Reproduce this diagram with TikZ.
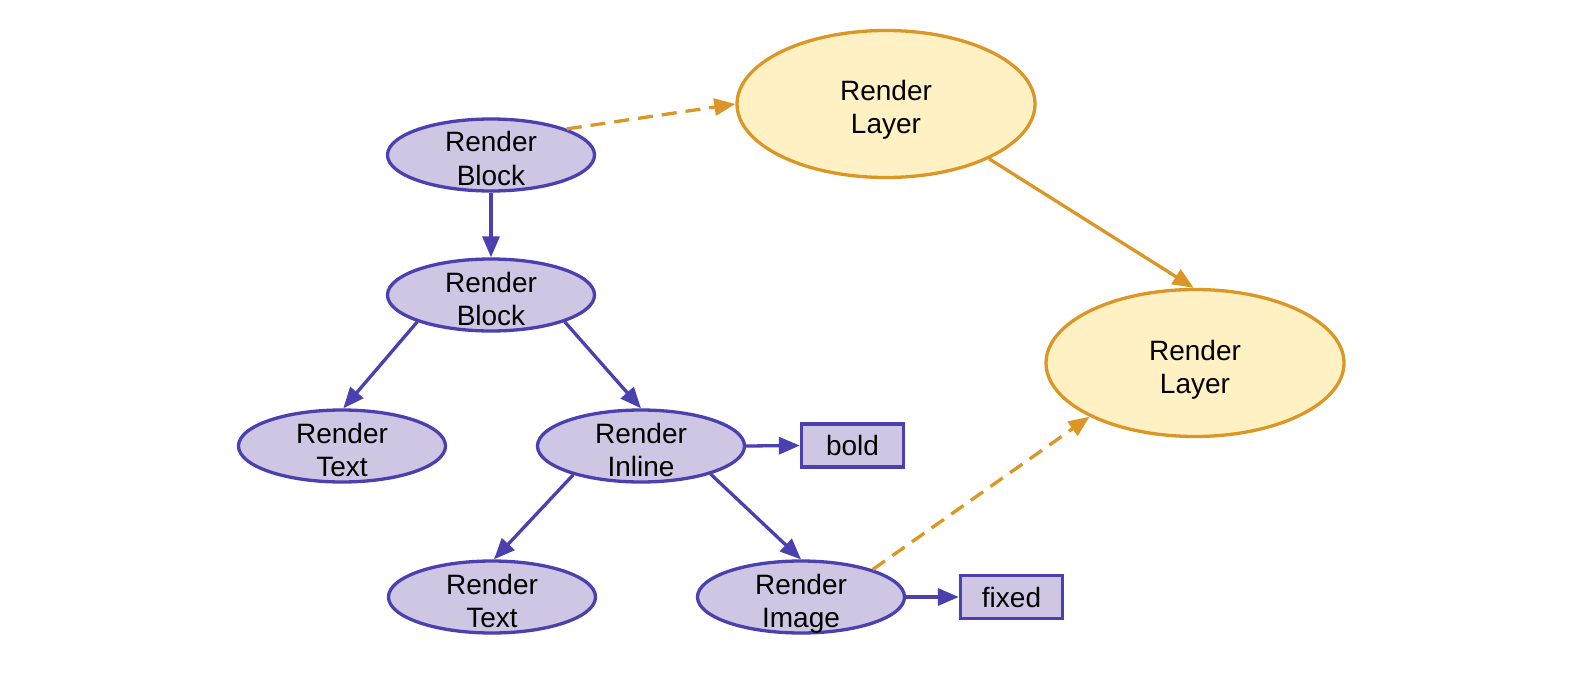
\documentclass[tikz,border=0pt]{standalone}
\usepackage{fontspec}
\setmainfont{Liberation Sans}
\usetikzlibrary{shapes.geometric,arrows.meta}
\definecolor{pfill}{RGB}{207,198,228}
\definecolor{pline}{RGB}{74,64,176}
\definecolor{ofill}{RGB}{255,241,196}
\definecolor{oline}{RGB}{219,150,37}
\newcommand{\tln}[2]{\raisebox{3pt}{\begin{tabular}[t]{@{}c@{}}#1\\#2\end{tabular}}}
\begin{document}
\begin{tikzpicture}[x=1pt,y=-1pt,
  lbl/.style={font=\fontsize{28}{33}\selectfont, text=black},
  flat/.style={text height=0pt, text depth=0pt, inner sep=0pt},
  pnode/.style={lbl, flat, ellipse, draw=pline, fill=pfill, line width=3.3pt, minimum width=207pt, minimum height=72pt},
  onode/.style={lbl, flat, ellipse, draw=oline, fill=ofill, line width=3.3pt, minimum width=298pt, minimum height=147pt},
  pbox/.style={lbl, rectangle, draw=pline, fill=pfill, line width=3.3pt, minimum width=102pt, minimum height=43pt, inner sep=0pt},
  parrow/.style={draw=pline, line width=3.3pt, -{Triangle[length=21pt,width=17pt]}},
  oarrow/.style={draw=oline, line width=3.3pt, -{Triangle[length=21pt,width=17pt]}},
  odash/.style={oarrow, dash pattern=on 15pt off 9pt},
]
\fill[white] (0,0) rectangle (1574,698);
\useasboundingbox (0,0) rectangle (1574,698);

\node[pnode] (b1) at (491,155) {\tln{Render}{Block}};
\node[pnode] (b2) at (491,295) {\tln{Render}{Block}};
\node[pnode] (t1) at (342,446) {\tln{Render}{Text}};
\node[pnode] (in) at (641,446) {\tln{Render}{Inline}};
\node[pnode] (t2) at (492,597) {\tln{Render}{Text}};
\node[pnode] (im) at (801,597) {\tln{Render}{Image}};
\node[pbox] (bold) at (852.5,445.5) {bold};
\node[pbox] (fixed) at (1011.5,597) {fixed};
\node[onode] (l1) at (886,104) {\tln{Render}{Layer}};
\node[onode] (l2) at (1195,363) {\tln{Render}{Layer}};

\draw[parrow] (b1.south) -- (b2.north);
\draw[parrow] (b2.200) -- (t1.88);
\draw[parrow] (b2.-20) -- (in.90);
\draw[parrow] (in.203) -- (t2.87);
\draw[parrow] (in.-22) -- (im.90);
\draw[parrow] (in.east) -- (bold.west);
\draw[parrow] (im.east) -- (fixed.west);
\draw[odash] (b1.19) -- (l1.west);
\draw[oarrow] (l1.-28) -- (l2.91);
\draw[odash] (im.21) -- (l2.207);
\end{tikzpicture}
\end{document}
